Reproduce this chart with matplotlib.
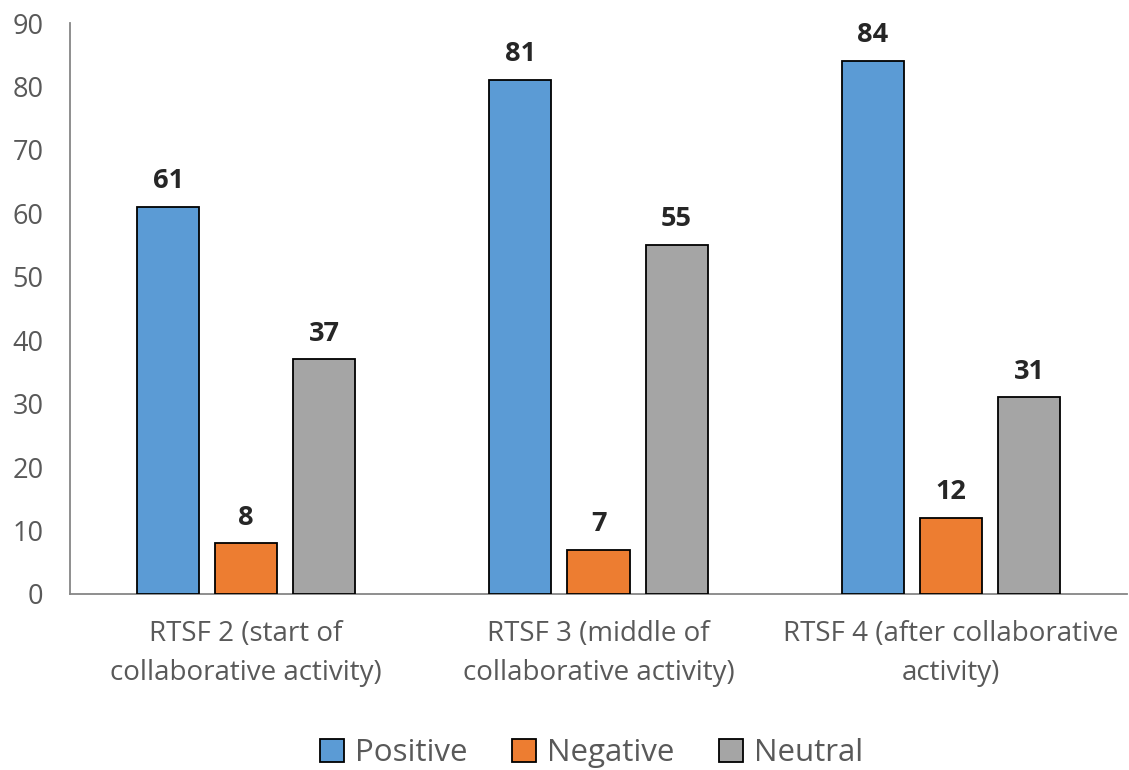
import numpy as np
import matplotlib
matplotlib.use("Agg")
import matplotlib.pyplot as plt

plt.rcParams['font.family'] = ['Open Sans', 'DejaVu Sans']

categories = ["RTSF 2 (start of\ncollaborative activity)",
              "RTSF 3 (middle of\ncollaborative activity)",
              "RTSF 4 (after collaborative\nactivity)"]
series_names = ["Positive", "Negative", "Neutral"]
positive = [61, 81, 84]
negative = [8, 7, 12]
neutral = [37, 55, 31]
colors = ["#5B9BD5", "#ED7D31", "#A5A5A5"]

text_color = "#595959"
axis_color = "#868686"

fig = plt.figure(figsize=(11.29, 7.70), dpi=100)
ax = fig.add_axes([70 / 1129, 1 - 594 / 770, 1057 / 1129, 571 / 770])

x = np.arange(len(categories))
width = 62 / 352
step = 78 / 352

for i, (name, vals) in enumerate(zip(series_names, [positive, negative, neutral])):
    pos = x + (i - 1) * step
    bars = ax.bar(pos, vals, width, color=colors[i], edgecolor="black",
                  linewidth=1.3, label=name, zorder=3)
    for b, v in zip(bars, vals):
        ax.text(b.get_x() + b.get_width() / 2, v + 2.0, str(v),
                ha="center", va="bottom", fontsize=19.5, fontweight="bold",
                color="#262626")

ax.set_xlim(-0.5, 2.5)
ax.set_ylim(0, 90)
ax.set_yticks(range(0, 91, 10))
ax.set_xticks(x)
ax.set_xticklabels(categories, fontsize=20, color=text_color, linespacing=1.5)
ax.tick_params(axis="y", labelsize=19.5, labelcolor=text_color, length=0, pad=19)
ax.tick_params(axis="x", length=0, pad=19)

for s in ["top", "right"]:
    ax.spines[s].set_visible(False)
for s in ["left", "bottom"]:
    ax.spines[s].set_color(axis_color)
    ax.spines[s].set_linewidth(1.3)

leg = fig.legend(loc="lower center", ncol=3, frameon=False, fontsize=22.5,
                 bbox_to_anchor=(0.524, -0.034), handlelength=0.75,
                 handleheight=0.75, handletextpad=0.35, columnspacing=1.45)
for t in leg.get_texts():
    t.set_color(text_color)

fig.savefig("out.png", dpi=100)
